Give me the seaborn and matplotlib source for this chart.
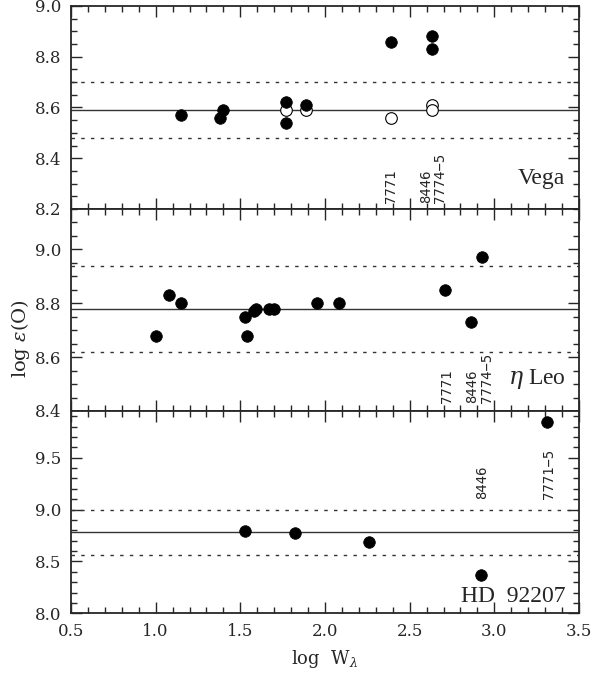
import numpy as np
import pandas as pd
import matplotlib
matplotlib.use("Agg")
import matplotlib.pyplot as plt
import seaborn as sns
from matplotlib.ticker import MultipleLocator, FormatStrFormatter

# Oxygen abundances vs. log equivalent width
vega_logw = [1.15, 1.38, 1.40, 1.77, 1.77, 1.89, 2.39, 2.63, 2.63]
vega_abund = [8.57, 8.56, 8.59, 8.62, 8.54, 8.61, 8.86, 8.88, 8.83]
vega_nlte_logw = [1.77, 1.89, 2.39, 2.63, 2.63]
vega_nlte_abund = [8.59, 8.59, 8.56, 8.61, 8.59]
vega_mean, vega_sigma = 8.59, 0.11

etaleo_logw = [1.00, 1.08, 1.15, 1.53, 1.54, 1.58, 1.59, 1.67, 1.70,
               1.95, 2.08, 2.71, 2.86, 2.93]
etaleo_abund = [8.68, 8.83, 8.80, 8.75, 8.68, 8.77, 8.78, 8.78, 8.78,
                8.80, 8.80, 8.85, 8.73, 8.97]
etaleo_mean, etaleo_sigma = 8.78, 0.16

hd_logw = [1.53, 1.82, 2.26, 2.92, 3.31]
hd_abund = [8.79, 8.77, 8.69, 8.37, 9.84]
hd_mean, hd_sigma = 8.78, 0.22

star_names = ["Vega", r"$\eta$ Leo", "HD  92207"]
vega_lines = ["7771", "8446", "7774\u22125"]
etaleo_lines = ["7771", "8446", "7774\u22125"]
hd_lines = ["8446", "7771\u22125"]

sns.set_style("ticks")
plt.rcParams['font.family'] = ['DejaVu Serif']
plt.rcParams['mathtext.fontset'] = 'dejavuserif'

fig = plt.figure(figsize=(5.94, 6.77), dpi=100)
left, right = 71 / 594, 579 / 594
H = 677
bounds = [(6, 209), (209, 411), (411, 613.3)]
axes = []
for top, bot in bounds:
    ax = fig.add_axes([left, 1 - bot / H, right - left, (bot - top) / H])
    axes.append(ax)

panels = [
    dict(df=pd.DataFrame({"logw": vega_logw, "abund": vega_abund}),
         df_open=pd.DataFrame({"logw": vega_nlte_logw, "abund": vega_nlte_abund}),
         mean=vega_mean, sig=vega_sigma, ylim=(8.2, 9.0), major=0.2, minor=0.05),
    dict(df=pd.DataFrame({"logw": etaleo_logw, "abund": etaleo_abund}),
         df_open=None, mean=etaleo_mean, sig=etaleo_sigma, ylim=(8.4, 9.15),
         major=0.2, minor=0.05),
    dict(df=pd.DataFrame({"logw": hd_logw, "abund": hd_abund}),
         df_open=None, mean=hd_mean, sig=hd_sigma, ylim=(8.0, 9.95),
         major=0.5, minor=0.1),
]

for ax, p in zip(axes, panels):
    # mean abundance and +/- 1 sigma
    ax.axhline(p["mean"], color="#333333", lw=1.0, zorder=1)
    for s in (-1, 1):
        ax.axhline(p["mean"] + s * p["sig"], color="#333333", lw=1.0,
                   linestyle=(0, (2.5, 4.5)), zorder=1)
    if p["df_open"] is not None:
        sns.scatterplot(data=p["df_open"], x="logw", y="abund", ax=ax, s=70,
                        facecolor="white", edgecolor="black", linewidth=0.8,
                        zorder=2)
    sns.scatterplot(data=p["df"], x="logw", y="abund", ax=ax, s=70,
                    color="black", edgecolor="black", linewidth=0.5, zorder=3)
    ax.set_xlim(0.5, 3.5)
    ax.set_ylim(*p["ylim"])
    ax.xaxis.set_major_locator(MultipleLocator(0.5))
    ax.xaxis.set_minor_locator(MultipleLocator(0.1))
    ax.yaxis.set_major_locator(MultipleLocator(p["major"]))
    ax.yaxis.set_minor_locator(MultipleLocator(p["minor"]))
    ax.yaxis.set_major_formatter(FormatStrFormatter("%.1f"))
    ax.tick_params(which="both", direction="in", top=True, right=True,
                   labelsize=12, width=1.0, pad=7)
    ax.tick_params(which="major", length=8)
    ax.tick_params(which="minor", length=4)
    for sp in ax.spines.values():
        sp.set_linewidth(1.3)
    ax.set_xlabel("")
    ax.set_ylabel("")

axes[0].tick_params(labelbottom=False)
axes[1].tick_params(labelbottom=False)

# Line identifications
lab_kw = dict(rotation=90, ha="center", va="bottom", fontsize=10,
              family="DejaVu Sans Mono")
for x, t in zip([2.39, 2.60, 2.68], vega_lines):
    axes[0].text(x, 8.225, t, **lab_kw)
for x, t in zip([2.72, 2.87, 2.955], etaleo_lines):
    axes[1].text(x, 8.43, t, **lab_kw)
for x, t in zip([2.93, 3.32], hd_lines):
    axes[2].text(x, 9.10, t, **lab_kw)

# Star names
name_kw = dict(ha="right", va="center", fontsize=17, family="Liberation Serif")
axes[0].text(3.42, 8.32, star_names[0], **name_kw)
axes[1].text(3.42, 8.52, star_names[1], **name_kw)
axes[2].text(3.42, 8.16, star_names[2], **name_kw)

axes[2].set_xlabel(r"log  W$_{\lambda}$", fontsize=13, labelpad=6)
fig.text(0.035, 0.5, r"log $\epsilon$(O)", rotation=90, ha="center",
         va="center", fontsize=14)

fig.savefig("out.png", dpi=100)
